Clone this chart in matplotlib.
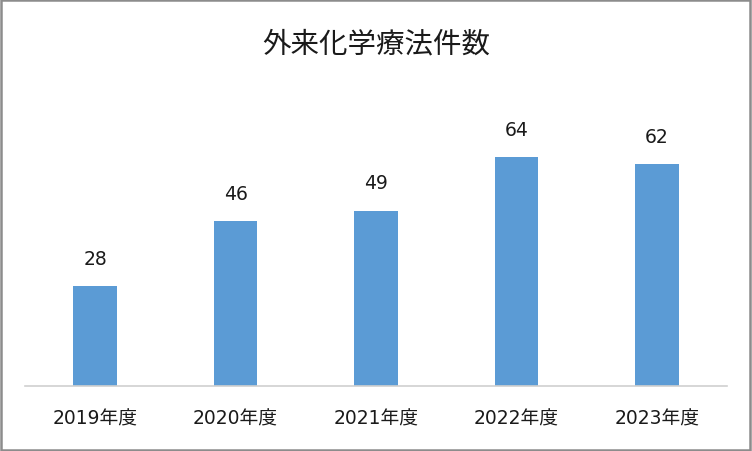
import matplotlib
matplotlib.use("Agg")
import matplotlib.pyplot as plt
from matplotlib.patches import Rectangle

plt.rcParams['font.family'] = ['Noto Sans CJK JP', 'DejaVu Sans']
num_font = ['DejaVu Sans', 'Noto Sans CJK JP']  # wider digits, closer to Meiryo

years = ["2019年度", "2020年度", "2021年度", "2022年度", "2023年度"]
counts = [28, 46, 49, 64, 62]
title = "外来化学療法件数"

fig = plt.figure(figsize=(7.52, 4.52), dpi=100)
ax = fig.add_axes([25/752, 65/452, 702/752, (387-136.4)/452])

x = range(len(years))
bars = ax.bar(x, counts, width=0.31, color="#5B9BD5")

for xi, v in zip(x, counts):
    ax.annotate(str(v), (xi, v), xytext=(0, 16), textcoords="offset points",
                ha="center", va="baseline", fontsize=13.5, color="#1a1a1a",
                family=num_font, annotation_clip=False)

ax.set_xlim(-0.5, len(years) - 0.5)
ax.set_ylim(0, 70)
ax.set_xticks(list(x))
ax.set_xticklabels(years, fontsize=13.5, color="#1a1a1a", family=num_font)
ax.tick_params(axis="x", length=0, pad=16.5)
ax.set_yticks([])
for s in ["top", "right", "left"]:
    ax.spines[s].set_visible(False)
ax.spines["bottom"].set_color("#D0D0D0")
ax.spines["bottom"].set_linewidth(1.2)

fig.text(0.5, 1 - 44/452, title, ha="center", va="center", fontsize=20.5,
         color="#1a1a1a")

# chart border
fig.patches.append(Rectangle((0.001, 0.002), 0.997, 0.995, transform=fig.transFigure,
                             fill=False, edgecolor="#8C8C8C", linewidth=1.8))

fig.savefig("out.png", dpi=100)
